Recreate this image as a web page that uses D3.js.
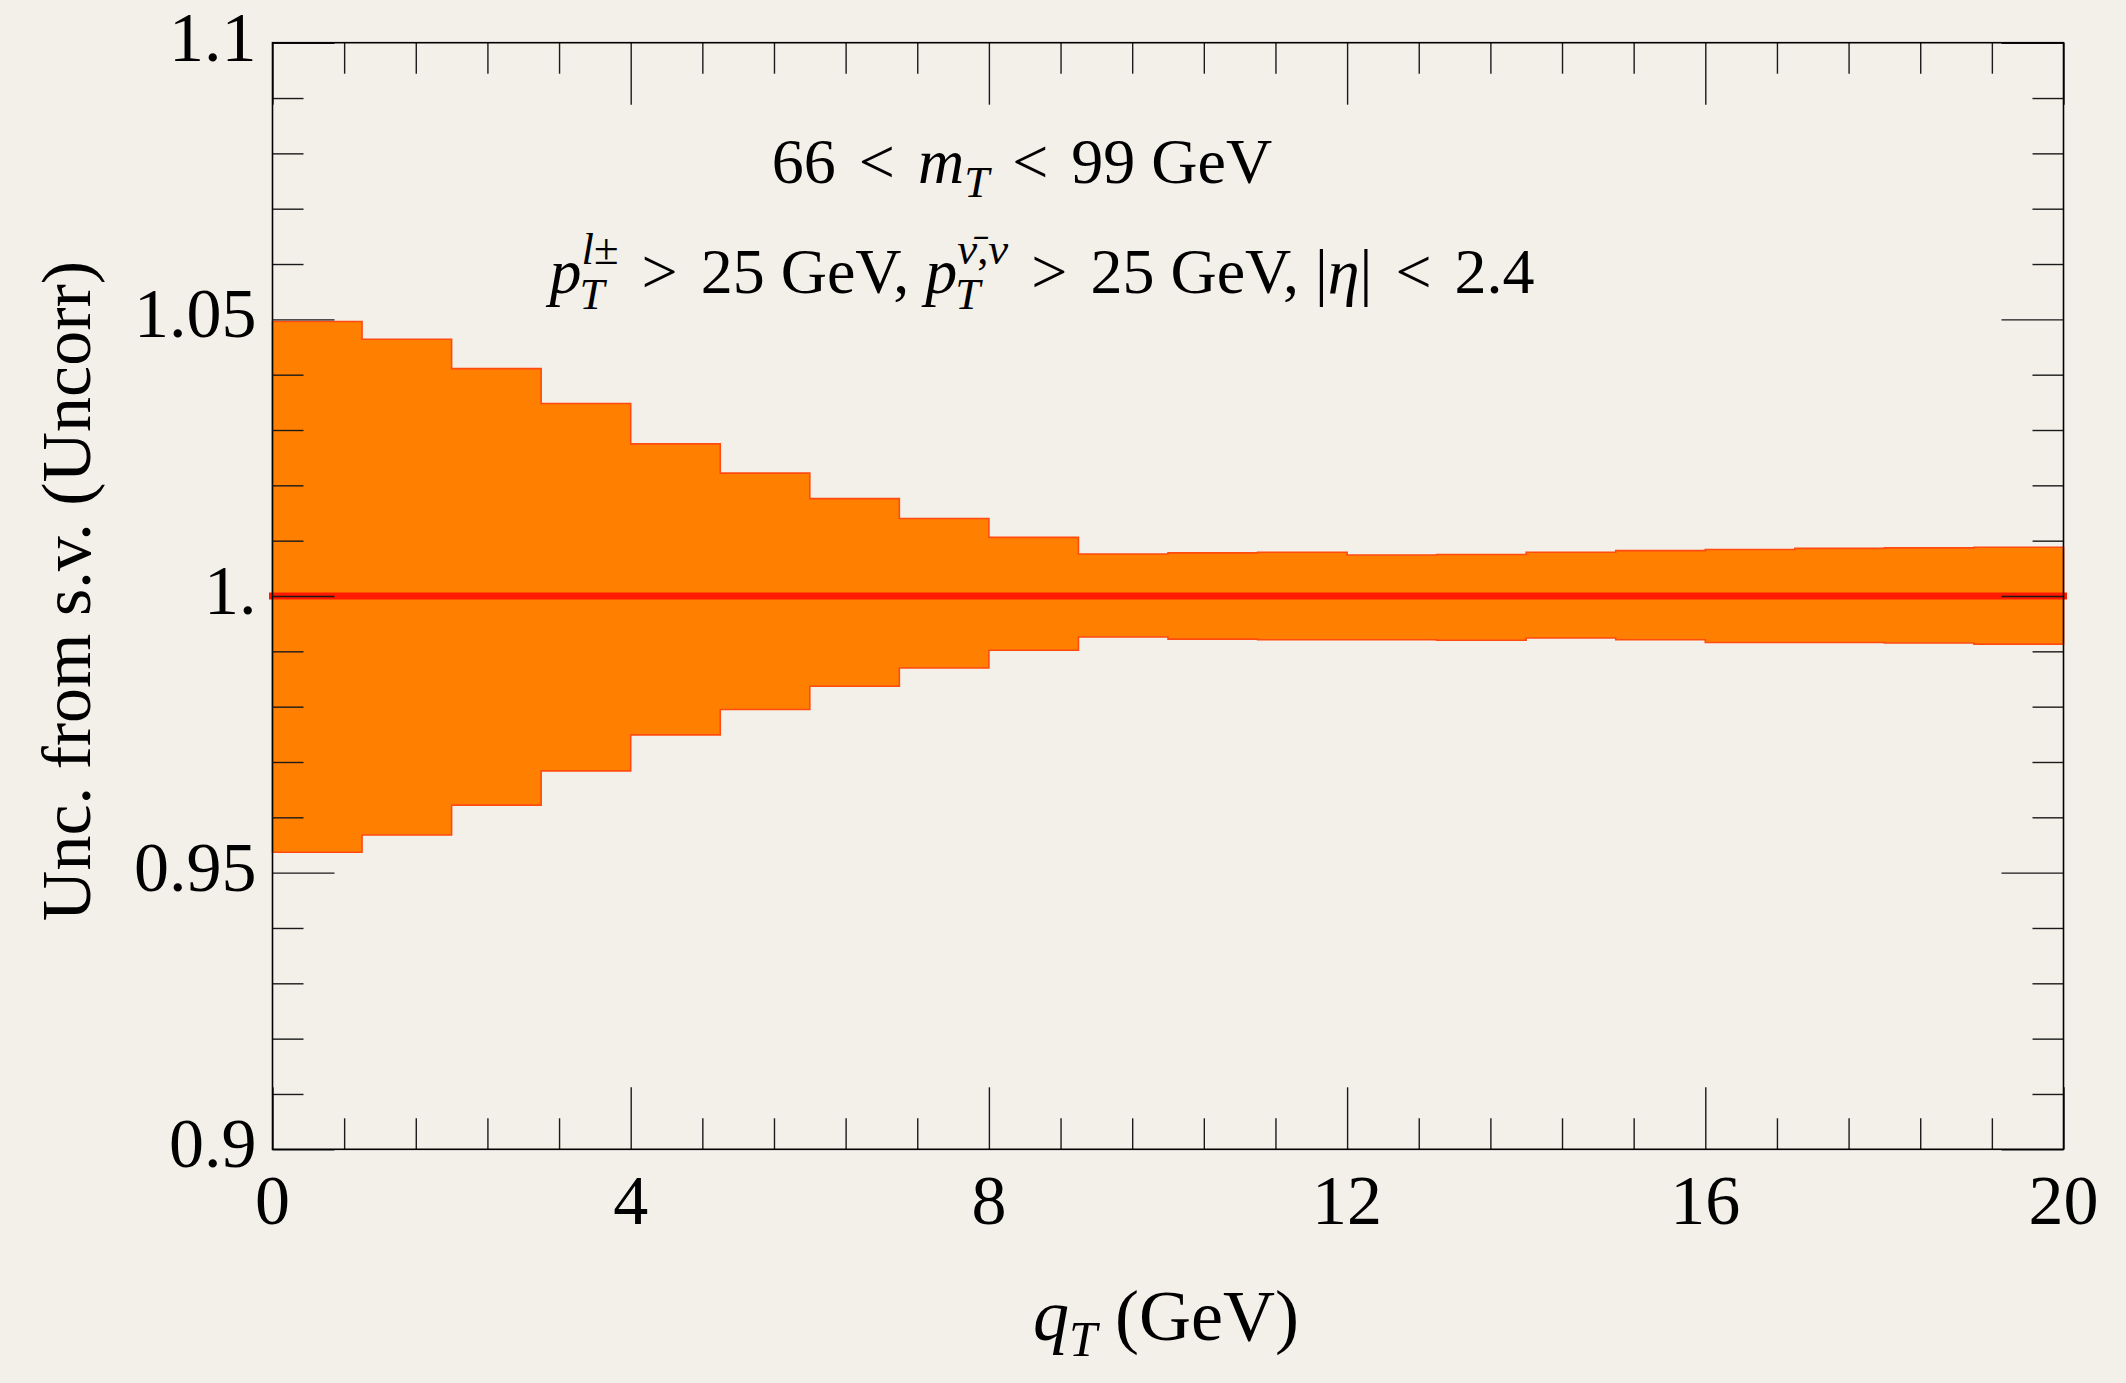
<!DOCTYPE html>
<html>
<head>
<meta charset="utf-8">
<script src="https://cdn.jsdelivr.net/npm/d3@7"></script>
<style>
  html, body { margin: 0; padding: 0; background: #f3f0ea; }
  svg { display: block; }
  text { font-family: "Liberation Serif", "DejaVu Serif", serif; fill: #000; white-space: pre; }
</style>
</head>
<body>
<script>
// Lower edge of each q_T bin (GeV); every bin is 1 GeV wide
const binLow = [0, 1, 2, 3, 4, 5, 6, 7, 8, 9, 10, 11, 12, 13, 14, 15, 16, 17, 18, 19];
const binHigh = 20;
// Upper and lower edge of the scale-variation band (ratio to central)
const bandUpper = [1.0496, 1.0464, 1.0411, 1.0348, 1.0275, 1.0222, 1.0176, 1.0140, 1.0106, 1.0076,
                   1.0078, 1.0079, 1.0074, 1.0075, 1.0079, 1.0082, 1.0084, 1.0086, 1.0087, 1.0088];
const bandLower = [0.9537, 0.9568, 0.9622, 0.9684, 0.9749, 0.9795, 0.9837, 0.9870, 0.9902, 0.9926,
                   0.9922, 0.9921, 0.9921, 0.9920, 0.9924, 0.9921, 0.9916, 0.9916, 0.9915, 0.9913];
// Central prediction normalised to itself
const central = [1, 1, 1, 1, 1, 1, 1, 1, 1, 1, 1, 1, 1, 1, 1, 1, 1, 1, 1, 1];

const xMajorTicks = [0, 4, 8, 12, 16, 20];
const xTickLabels = ["0", "4", "8", "12", "16", "20"];
const yMajorTicks = [0.9, 0.95, 1.0, 1.05, 1.1];
const yTickLabels = ["0.9", "0.95", "1.", "1.05", "1.1"];

const W = 2126, H = 1383;
const L = 272.5, R = 2063.5, T = 42.7, B = 1149.3;
const MAJOR = 62, MINOR = 31;

const svg = d3.select("body").append("svg").attr("width", W).attr("height", H);
svg.append("rect").attr("width", W).attr("height", H).attr("fill", "#f3f0ea");

const x = d3.scaleLinear().domain([0, 20]).range([L, R]);
const y = d3.scaleLinear().domain([0.9, 1.1]).range([B, T]);

// step data: one point per bin edge, last bin repeated at the upper edge
const steps = binLow.map((q, i) => ({ q, hi: bandUpper[i], lo: bandLower[i], c: central[i] }));
steps.push({ q: binHigh, hi: bandUpper[bandUpper.length - 1], lo: bandLower[bandLower.length - 1], c: central[central.length - 1] });

svg.append("clipPath").attr("id", "plotclip")
  .append("rect").attr("x", L - 6).attr("y", T).attr("width", R - L + 12).attr("height", B - T);

const plot = svg.append("g").attr("clip-path", "url(#plotclip)");

const band = d3.area()
  .x(d => x(d.q)).y0(d => y(d.lo)).y1(d => y(d.hi))
  .curve(d3.curveStepAfter);
plot.append("path").datum(steps)
  .attr("d", band)
  .attr("fill", "#ff8000")
  .attr("stroke", "#ff4a10")
  .attr("stroke-width", 1.6);

const centralLine = d3.line().x(d => x(d.q)).y(d => y(d.c)).curve(d3.curveStepAfter);
plot.append("path").datum(steps)
  .attr("d", centralLine)
  .attr("fill", "none")
  .attr("stroke", "#ff1a00")
  .attr("stroke-width", 7)
  .attr("stroke-linecap", "square");

// minor tick positions
const xMinor = d3.range(0, 20.001, 0.8).map(v => +v.toFixed(2)).filter(v => xMajorTicks.indexOf(v) < 0 && v > 0 && v < 20);
const yMinor = d3.range(0.9, 1.1001, 0.01).map(v => +v.toFixed(3)).filter(v => !yMajorTicks.some(m => Math.abs(m - v) < 1e-6) && v > 0.9 && v < 1.1);

function styleTicks(g) {
  g.select(".domain").remove();
  g.selectAll(".tick line").attr("stroke", "#1a1a1a").attr("stroke-width", 1.4);
  g.selectAll(".tick text").remove();
}

// ticks on all four sides, pointing inwards
const axes = svg.append("g");
axes.append("g").attr("transform", `translate(0,${B})`)
  .call(d3.axisBottom(x).tickValues(xMajorTicks).tickSize(-MAJOR)).call(styleTicks);
axes.append("g").attr("transform", `translate(0,${B})`)
  .call(d3.axisBottom(x).tickValues(xMinor).tickSize(-MINOR)).call(styleTicks);
axes.append("g").attr("transform", `translate(0,${T})`)
  .call(d3.axisTop(x).tickValues(xMajorTicks).tickSize(-MAJOR)).call(styleTicks);
axes.append("g").attr("transform", `translate(0,${T})`)
  .call(d3.axisTop(x).tickValues(xMinor).tickSize(-MINOR)).call(styleTicks);
axes.append("g").attr("transform", `translate(${L},0)`)
  .call(d3.axisLeft(y).tickValues(yMajorTicks).tickSize(-MAJOR)).call(styleTicks);
axes.append("g").attr("transform", `translate(${L},0)`)
  .call(d3.axisLeft(y).tickValues(yMinor).tickSize(-MINOR)).call(styleTicks);
axes.append("g").attr("transform", `translate(${R},0)`)
  .call(d3.axisRight(y).tickValues(yMajorTicks).tickSize(-MAJOR)).call(styleTicks);
axes.append("g").attr("transform", `translate(${R},0)`)
  .call(d3.axisRight(y).tickValues(yMinor).tickSize(-MINOR)).call(styleTicks);

// frame
svg.append("rect").attr("x", L).attr("y", T).attr("width", R - L).attr("height", B - T)
  .attr("fill", "none").attr("stroke", "#000").attr("stroke-width", 1.6);

// tick labels
const labelSize = 70;
svg.append("g").selectAll("text").data(xMajorTicks).join("text")
  .attr("x", d => x(d)).attr("y", B + 75)
  .attr("text-anchor", "middle").attr("font-size", labelSize)
  .text((d, i) => xTickLabels[i]);
svg.append("g").selectAll("text").data(yMajorTicks).join("text")
  .attr("x", L - 16).attr("y", d => y(d) + 18)
  .attr("text-anchor", "end").attr("font-size", labelSize)
  .text((d, i) => yTickLabels[i]);

// math-style text in a single <text>: roman/italic runs, relation spacing,
// superscripts and subscripts stacked over the same x position
function mathText(parent, parts, cx, baseline, size) {
  const t = parent.append("text");
  let pos = 0, stackStart = 0;
  parts.forEach(p => {
    const fs = size * (p.s || 1);
    if (p.start) stackStart = pos;
    const lead = p.rel ? 0.36 * size : 0;
    const x0 = (p.stack ? stackStart : pos) + (p.dx || 0) * size + lead;
    const ts = t.append("tspan")
      .attr("x", x0).attr("y", (p.dy || 0) * size)
      .attr("font-size", fs)
      .attr("font-style", p.i ? "italic" : "normal")
      .text(p.t);
    const end = x0 + ts.node().getComputedTextLength() + lead;
    pos = p.stack ? Math.max(pos, end) : end;
  });
  t.attr("transform", `translate(${cx - pos / 2},${baseline})`);
  return t;
}

const annSize = 64;
mathText(svg, [
  { t: "66" },
  { t: "<", rel: 1 },
  { t: "m", i: 1 },
  { t: "T", i: 1, s: 0.7, dy: 0.22 },
  { t: "<", rel: 1 },
  { t: "99 GeV" }
], 1022, 183, annSize);

mathText(svg, [
  { t: "p", i: 1 },
  { t: "l", i: 1, s: 0.7, dy: -0.45, start: 1 },
  { t: "±", s: 0.7, dy: -0.45 },
  { t: "T", i: 1, s: 0.7, dy: 0.25, stack: 1, dx: -0.03 },
  { t: ">", rel: 1 },
  { t: "25 GeV, " },
  { t: "p", i: 1 },
  { t: "ν\u0304", i: 1, s: 0.7, dy: -0.45, start: 1 },
  { t: ",", s: 0.7, dy: -0.45 },
  { t: "ν", i: 1, s: 0.7, dy: -0.45 },
  { t: "T", i: 1, s: 0.7, dy: 0.25, stack: 1, dx: -0.03 },
  { t: ">", rel: 1 },
  { t: "25 GeV, |" },
  { t: "η", i: 1 },
  { t: "|" },
  { t: "<", rel: 1 },
  { t: "2.4" }
], 1042, 293, annSize);

// axis titles
mathText(svg, [
  { t: "q", i: 1 },
  { t: "T", i: 1, s: 0.7, dy: 0.22 },
  { t: " (GeV)" }
], 1166, 1340, 72);

svg.append("text")
  .attr("transform", "translate(90,591) rotate(-90)")
  .attr("text-anchor", "middle")
  .attr("font-size", 70)
  .text("Unc. from s.v. (Uncorr)");
</script>
</body>
</html>
